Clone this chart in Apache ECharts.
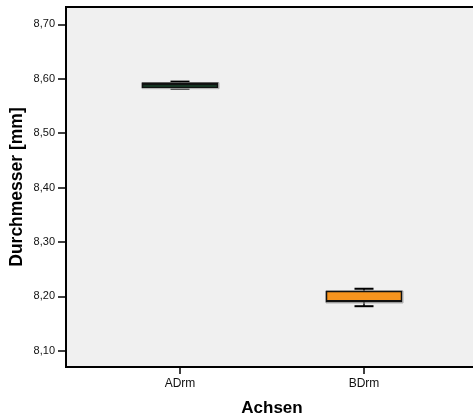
<!DOCTYPE html>
<html>
<head>
<meta charset="utf-8">
<script src="https://cdn.jsdelivr.net/npm/echarts@6/dist/echarts.min.js"></script>
<style>
html,body{margin:0;padding:0;background:#fff;}
#c{width:473px;height:417px;}
</style>
</head>
<body>
<div id="c"></div>
<script>
// ---- data ----
const categories = ['ADrm', 'BDrm'];
const whiskerLow  = [8.5818, 8.1818];
const q1          = [8.5846, 8.1905];
const median      = [8.5897, 8.1915];
const q3          = [8.5920, 8.2089];
const whiskerHigh = [8.5948, 8.2139];
const yTicks = [8.10, 8.20, 8.30, 8.40, 8.50, 8.60, 8.70];
const xTitle = 'Achsen';
const yTitle = 'Durchmesser [mm]';

// ---- styles ----
const boxFills = ['#1d5a36', '#f7941e'];
const FONT = '"Liberation Sans", Arial, Helvetica, sans-serif';

const seriesData = categories.map((c, i) => [i, whiskerLow[i], q1[i], median[i], q3[i], whiskerHigh[i]]);

const chart = echarts.init(document.getElementById('c'), null, {renderer: 'canvas'});

function renderBox(params, api) {
  const idx = api.value(0);
  const pLow = api.coord([idx, api.value(1)]);
  const pQ1 = api.coord([idx, api.value(2)]);
  const pMed = api.coord([idx, api.value(3)]);
  const pQ3 = api.coord([idx, api.value(4)]);
  const pHigh = api.coord([idx, api.value(5)]);
  const cx = pQ1[0];
  const boxHalf = 37.5;
  const capHalf = 9.5;
  const ink = '#000';
  return {
    type: 'group',
    children: [
      {type: 'line', shape: {x1: cx, y1: pQ3[1], x2: cx, y2: pHigh[1]}, style: {stroke: ink, lineWidth: 1.5}},
      {type: 'line', shape: {x1: cx, y1: pQ1[1], x2: cx, y2: pLow[1]}, style: {stroke: ink, lineWidth: 1.5}},
      {type: 'line', shape: {x1: cx - capHalf, y1: pHigh[1], x2: cx + capHalf, y2: pHigh[1]}, style: {stroke: ink, lineWidth: 2}},
      {type: 'line', shape: {x1: cx - capHalf, y1: pLow[1], x2: cx + capHalf, y2: pLow[1]}, style: {stroke: ink, lineWidth: 2}},
      {type: 'rect', shape: {x: cx - boxHalf - 0.5, y: pQ3[1] - 0.5, width: boxHalf * 2 + 2, height: pQ1[1] - pQ3[1] + 2},
        style: {fill: 'none', stroke: '#aaa', lineWidth: 1}},
      {type: 'rect', shape: {x: cx - boxHalf, y: pQ3[1], width: boxHalf * 2, height: pQ1[1] - pQ3[1]},
        style: {fill: boxFills[idx], stroke: '#111', lineWidth: 1.5}},
      {type: 'line', shape: {x1: cx - boxHalf, y1: pMed[1], x2: cx + boxHalf, y2: pMed[1]}, style: {stroke: '#111', lineWidth: 2}}
    ]
  };
}

const option = {
  backgroundColor: '#ffffff',
  animation: false,
  graphic: [{
    type: 'rect', z: -10, silent: true,
    shape: {x: 66, y: 7, width: 420, height: 360},
    style: {fill: '#f0f0f0', stroke: '#000', lineWidth: 2}
  }],
  grid: {left: 88, right: 17, top: 7, bottom: 50, containLabel: false, outerBoundsMode: 'none'},
  xAxis: {
    type: 'category',
    data: categories,
    boundaryGap: true,
    name: xTitle,
    nameLocation: 'middle',
    nameGap: 33,
    nameMoveOverlap: false,
    nameTextStyle: {fontFamily: FONT, fontSize: 17, fontWeight: 'bold', color: '#000'},
    axisLine: {show: false},
    axisTick: {show: true, alignWithLabel: true, length: 7, lineStyle: {color: '#000', width: 1.5}},
    axisLabel: {fontFamily: FONT, fontSize: 12, color: '#111', margin: 11},
    splitLine: {show: false}
  },
  yAxis: {
    type: 'value',
    min: 8.070,
    max: 8.732,
    offset: 22,
    name: yTitle,
    nameLocation: 'middle',
    nameGap: 40,
    nameMoveOverlap: false,
    nameTextStyle: {fontFamily: FONT, fontSize: 17.5, fontWeight: 'bold', color: '#000'},
    axisLine: {show: false},
    axisTick: {show: true, length: 8, customValues: yTicks, lineStyle: {color: '#000', width: 1.5}},
    axisLabel: {
      fontFamily: FONT, fontSize: 11, color: '#111', margin: 11,
      customValues: yTicks,
      formatter: v => v.toFixed(2).replace('.', ',')
    },
    splitLine: {show: false}
  },
  series: [{
    type: 'custom',
    renderItem: renderBox,
    data: seriesData,
    encode: {x: 0, y: [1, 2, 3, 4, 5]},
    z: 5
  }]
};
chart.setOption(option);
</script>
</body>
</html>
